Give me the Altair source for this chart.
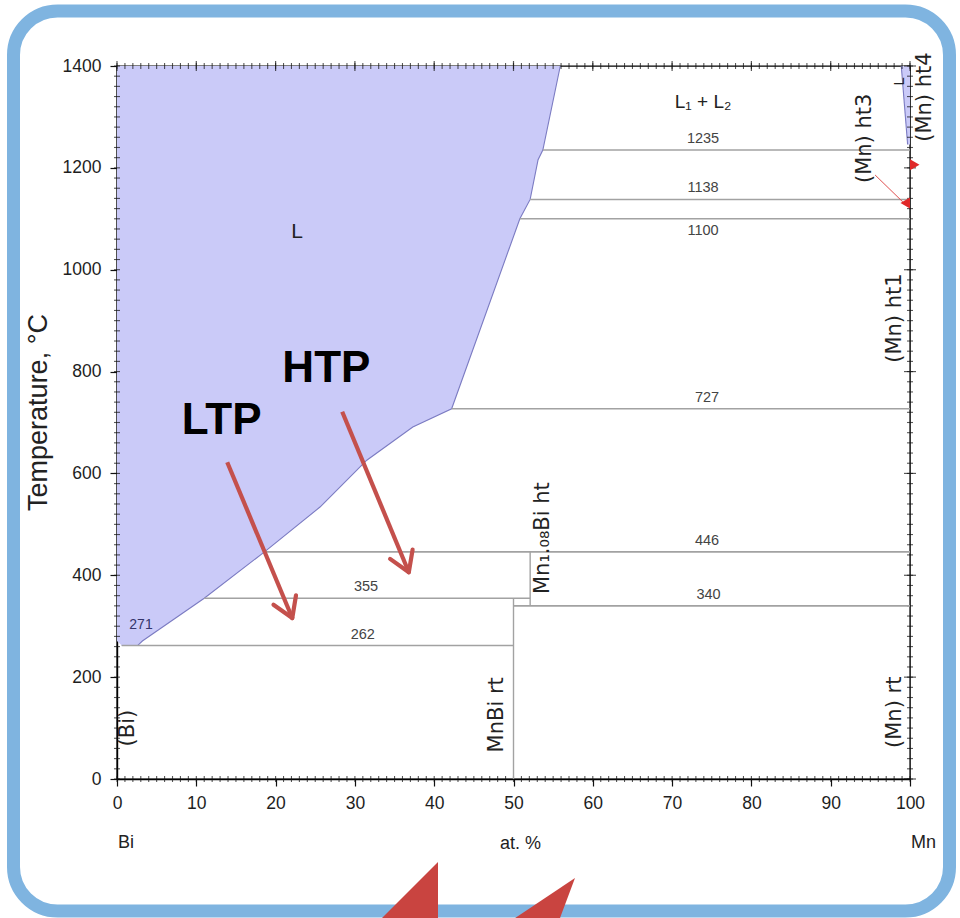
import math
import altair as alt
import pandas as pd

W, H = 793, 713
PAD = {"left": 117, "top": 66, "right": 50, "bottom": 139}

# ---- Bi–Mn phase diagram (x: at.% Mn, t: temperature °C) ----
# liquid field L: for each temperature, left and right composition bounds
liq_t = [262, 271, 355, 446, 534, 626, 691, 727, 1100, 1138, 1216, 1235, 1400]
liq_xl = [0.6, 0, 0, 0, 0, 0, 0, 0, 0, 0, 0, 0, 0]
liq_xr = [2.6, 3.2, 11.0, 18.6, 25.6, 31.5, 37.3, 42.2, 50.8, 52.1, 53.1, 53.7, 55.9]

# liquid field next to pure Mn
mn_liq_t = [1246, 1400]
mn_liq_xl = [99.7, 98.9]
mn_liq_xr = [100, 100]

# invariant (horizontal) reactions
iso_t = [262, 355, 340, 446, 727, 1100, 1138, 1235]
iso_x0 = [0.6, 11.0, 50.0, 18.6, 42.2, 50.8, 52.1, 53.7]
iso_x1 = [50.0, 52.1, 100, 100, 100, 100, 100, 100]
iso_lx = [31.0, 31.4, 74.6, 74.4, 74.4, 73.9, 73.9, 73.9]
iso_below = [False, False, False, False, False, True, False, False]

# intermetallic compounds (vertical lines)
comp_x = [50.0, 52.1]
comp_t0 = [0, 340]
comp_t1 = [355, 446]

# phase field names (rotated)
phase_names = ["(Bi)", "MnBi rt", "Mn₁.₀₈Bi ht", "(Mn) rt", "(Mn) ht1", "(Mn) ht3", "(Mn) ht4"]
phase_x = [1.4, 47.9, 53.7, 98.1, 98.1, 94.3, 101.9]
phase_t = [100, 126, 473, 131, 905, 1258, 1339]

# upright field names
field_names = ["L", "L₁ + L₂"]
field_x = [22.7, 73.9]
field_t = [1074, 1329]
field_size = [21, 19]

# Bi melting point
bi_melt = 271
bi_melt_x = 2.9

# LTP / HTP call-outs
anno_names = ["LTP", "HTP"]
anno_x = [13.2, 26.4]
anno_t = [703, 805]
arr_x0 = [13.9, 28.4]
arr_t0 = [622, 721]
arr_x1 = [22.1, 36.8]
arr_t1 = [316, 406]

# red markers on the Mn side
mk_x = [100.6, 99.4]
mk_t = [1206, 1131]
lead_x = [95.6, 99.1]
lead_t = [1186, 1133]

# axis tick positions
x_major = list(range(0, 101, 10))
x_minor = list(range(0, 101, 1))
y_major = list(range(0, 1401, 200))
y_minor = list(range(0, 1401, 20))

FONT = "Liberation Sans"
RED = "#C4504C"
LAV = "#CACAF8"
LAV_LINE = "#7B7BC2"
GRID = "#A2A2A2"
INK = "#111111"

xs = alt.Scale(domain=[0, 100], nice=False, zero=False)
ys = alt.Scale(domain=[0, 1400], nice=False, zero=False)


def X(field, **kw):
    kw.setdefault("axis", None)
    return alt.X(field, scale=xs, **kw)


def Y(field, **kw):
    kw.setdefault("axis", None)
    return alt.Y(field, scale=ys, **kw)


tick_style = dict(grid=False, domainColor="black", domainWidth=1.4,
                  tickColor=INK, tickWidth=1.2)

x_axis = alt.Axis(
    orient="bottom", values=x_major, tickSize=7, labelPadding=8,
    labelFont=FONT, labelFontSize=17.5, labelColor="#1E1E1E",
    labelFlush=False, labelOverlap=False,
    title="at. %", titleFont=FONT, titleFontSize=18, titleFontWeight="normal",
    titleColor="#1E1E1E", titleX=403, titleY=64, titleBaseline="middle",
    titleAlign="center", **tick_style,
)
y_axis = alt.Axis(
    orient="left", values=y_major, tickSize=7, labelPadding=9, format="d",
    labelFont=FONT, labelFontSize=17.5, labelColor="#1E1E1E",
    labelFlush=False, labelOverlap=False,
    title="Temperature, °C", titleFont=FONT, titleFontSize=27,
    titleFontWeight="normal", titleColor="#222222",
    titleX=-79, titleY=346, titleAngle=270, titleAlign="center",
    titleBaseline="middle", **tick_style,
)

one = pd.DataFrame({"k": [0]})

# decorative rounded frame
frame = alt.Chart(one).mark_rect(
    fillOpacity=0, stroke="#7FB4E0", strokeWidth=13, cornerRadius=44
).encode(
    x=alt.value(-103.5), x2=alt.value(832.5), y=alt.value(-55), y2=alt.value(845)
)

liq_df = pd.DataFrame({"t": liq_t, "xl": liq_xl, "xr": liq_xr})
liquid = alt.Chart(liq_df).mark_area(orient="horizontal", color=LAV, opacity=1).encode(
    y=Y("t:Q", axis=y_axis), x=X("xr:Q", axis=x_axis), x2="xl:Q"
)
mn_df = pd.DataFrame({"t": mn_liq_t, "xl": mn_liq_xl, "xr": mn_liq_xr})
mn_liquid = alt.Chart(mn_df).mark_area(orient="horizontal", color=LAV, opacity=1).encode(
    y=Y("t:Q"), x=X("xr:Q"), x2="xl:Q"
)

line_df = pd.DataFrame({
    "x": [liq_xl[0]] + liq_xr,
    "t": [liq_t[0]] + liq_t,
    "o": list(range(len(liq_t) + 1)),
})
liquidus = alt.Chart(line_df).mark_line(color=LAV_LINE, strokeWidth=1.1).encode(
    x=X("x:Q"), y=Y("t:Q"), order="o:Q"
)
mn_line_df = pd.DataFrame({"x": mn_liq_xl, "t": mn_liq_t})
mn_liquidus = alt.Chart(mn_line_df).mark_line(color=LAV_LINE, strokeWidth=1.1).encode(
    x=X("x:Q"), y=Y("t:Q"), order="t:Q"
)

# minor / mirrored ticks on all four sides of the frame
xm_df = pd.DataFrame({"v": x_minor})
ym_df = pd.DataFrame({"v": y_minor})
xM_df = pd.DataFrame({"v": x_major})
yM_df = pd.DataFrame({"v": y_major})
tick_bottom = alt.Chart(xm_df).mark_tick(color=INK, size=6, thickness=1.1, orient="vertical").encode(
    x=X("v:Q"), y=alt.value(H))
tick_top = alt.Chart(xm_df).mark_tick(color=INK, size=6, thickness=1.1, orient="vertical").encode(
    x=X("v:Q"), y=alt.value(0))
tick_top_major = alt.Chart(xM_df).mark_tick(color=INK, size=10, thickness=1.2, orient="vertical").encode(
    x=X("v:Q"), y=alt.value(0))
tick_left = alt.Chart(ym_df).mark_tick(color=INK, size=6, thickness=1.1, orient="horizontal").encode(
    y=Y("v:Q"), x=alt.value(0))
tick_right = alt.Chart(ym_df).mark_tick(color=INK, size=6, thickness=1.1, orient="horizontal").encode(
    y=Y("v:Q"), x=alt.value(W))
tick_right_major = alt.Chart(yM_df).mark_tick(color=INK, size=12, thickness=1.2, orient="horizontal").encode(
    y=Y("v:Q"), x=alt.value(W))

iso_df = pd.DataFrame({
    "t": iso_t, "x0": iso_x0, "x1": iso_x1, "lx": iso_lx,
    "below": iso_below, "label": [str(v) for v in iso_t],
})
iso_rules = alt.Chart(iso_df).mark_rule(color=GRID, strokeWidth=1.6).encode(
    x=X("x0:Q"), x2="x1:Q", y=Y("t:Q")
)
comp_df = pd.DataFrame({"x": comp_x, "t0": comp_t0, "t1": comp_t1})
comp_rules = alt.Chart(comp_df).mark_rule(color=GRID, strokeWidth=1.4).encode(
    x=X("x:Q"), y=Y("t0:Q"), y2="t1:Q"
)

iso_above_lbl = alt.Chart(iso_df).transform_filter("!datum.below").mark_text(
    font=FONT, fontSize=14.5, color="#444444", dy=-11
).encode(x=X("lx:Q"), y=Y("t:Q"), text="label:N")
iso_below_lbl = alt.Chart(iso_df).transform_filter("datum.below").mark_text(
    font=FONT, fontSize=14.5, color="#444444", dy=12
).encode(x=X("lx:Q"), y=Y("t:Q"), text="label:N")

melt_lbl = alt.Chart(pd.DataFrame({"x": [bi_melt_x], "t": [bi_melt], "s": [str(bi_melt)]})).mark_text(
    font=FONT, fontSize=14, color="#34346A", dy=-16, dx=1
).encode(x=X("x:Q"), y=Y("t:Q"), text="s:N")

phase_df = pd.DataFrame({"n": phase_names, "x": phase_x, "t": phase_t})
phase_lbl = alt.Chart(phase_df).mark_text(
    font="DejaVu Sans", fontSize=21, color="#222222", angle=270,
    align="center", baseline="middle"
).encode(x=X("x:Q"), y=Y("t:Q"), text="n:N")

field_df = pd.DataFrame({"n": field_names, "x": field_x, "t": field_t, "s": field_size})
field_lbl = alt.Chart(field_df).mark_text(
    font=FONT, color="#222222", align="center", baseline="middle"
).encode(x=X("x:Q"), y=Y("t:Q"), text="n:N",
         size=alt.Size("s:Q", scale=None, legend=None))

mn_l_lbl = alt.Chart(pd.DataFrame({"x": [98.6], "t": [1370], "n": ["L"]})).mark_text(
    font=FONT, fontSize=15, color="#222222", angle=270
).encode(x=X("x:Q"), y=Y("t:Q"), text="n:N")

# call-out arrows
sx, sy = W / 100.0, H / 1400.0
arr_df = pd.DataFrame({"x0": arr_x0, "t0": arr_t0, "x1": arr_x1, "t1": arr_t1})
arrows = alt.Chart(arr_df).mark_rule(color=RED, strokeWidth=4.2).encode(
    x=X("x0:Q"), y=Y("t0:Q"), x2="x1:Q", y2="t1:Q"
)
head_rows = []
for a, b, c, d in zip(arr_x0, arr_t0, arr_x1, arr_t1):
    dxp, dyp = (c - a) * sx, -(d - b) * sy
    ang = math.atan2(dyp, dxp) + math.pi
    for s in (-1, 1):
        th = ang + s * math.radians(32)
        ex, ey = 23 * math.cos(th), 23 * math.sin(th)
        head_rows.append({"x0": c, "t0": d, "x1": c + ex / sx, "t1": d - ey / sy})
heads = alt.Chart(pd.DataFrame(head_rows)).mark_rule(
    color=RED, strokeWidth=4.2, strokeCap="round"
).encode(x=X("x0:Q"), y=Y("t0:Q"), x2="x1:Q", y2="t1:Q")

anno_df = pd.DataFrame({"n": anno_names, "x": anno_x, "t": anno_t})
anno = alt.Chart(anno_df).mark_text(
    font=FONT, fontSize=44, fontWeight="bold", color="black",
    align="center", baseline="middle"
).encode(x=X("x:Q"), y=Y("t:Q"), text="n:N")

lead = alt.Chart(pd.DataFrame({"x0": [lead_x[0]], "t0": [lead_t[0]],
                               "x1": [lead_x[1]], "t1": [lead_t[1]]})).mark_rule(
    color="#E05050", strokeWidth=1
).encode(x=X("x0:Q"), y=Y("t0:Q"), x2="x1:Q", y2="t1:Q")
markers = alt.Chart(pd.DataFrame({"x": mk_x, "t": mk_t,
                                  "sh": ["triangle-right", "triangle-left"]})).mark_point(
    filled=True, color="#E02828", size=120, opacity=1
).encode(x=X("x:Q"), y=Y("t:Q"), shape=alt.Shape("sh:N", scale=None, legend=None))

# element names under the composition axis
ends = alt.Chart(pd.DataFrame({"x": [0, 100], "n": ["Bi", "Mn"]})).mark_text(
    font=FONT, fontSize=18, color="#222222", align="left", baseline="middle", dx=1
).encode(x=X("x:Q"), y=alt.value(H + 64), text="n:N")

# large red arrow tips entering from below
tip1 = alt.Chart(one).mark_point(
    shape="M 1 -1 L -1 1 L 1 1 Z", size=3600, filled=True, color="#C94440", opacity=1
).encode(x=alt.value(291), y=alt.value(826))
tip2 = alt.Chart(one).mark_point(
    shape="M 1 -0.67 L -1 0.67 L 0.5 0.67 Z", size=3600, filled=True,
    color="#C94440", opacity=1
).encode(x=alt.value(428), y=alt.value(832))

chart = alt.layer(
    frame, liquid, mn_liquid, liquidus, mn_liquidus,
    tick_bottom, tick_top, tick_top_major, tick_left, tick_right, tick_right_major,
    iso_rules, comp_rules,
    iso_above_lbl, iso_below_lbl, melt_lbl, phase_lbl, field_lbl, mn_l_lbl,
    arrows, heads, anno, lead, markers, ends, tip1, tip2,
).resolve_axis(x="independent", y="independent").properties(
    width=W, height=H, padding=PAD, autosize=alt.AutoSizeParams(type="none"),
    background="white",
).configure_view(stroke="black", strokeWidth=1.4)

chart.save("out.html", embed_options={"renderer": "svg", "actions": False})
